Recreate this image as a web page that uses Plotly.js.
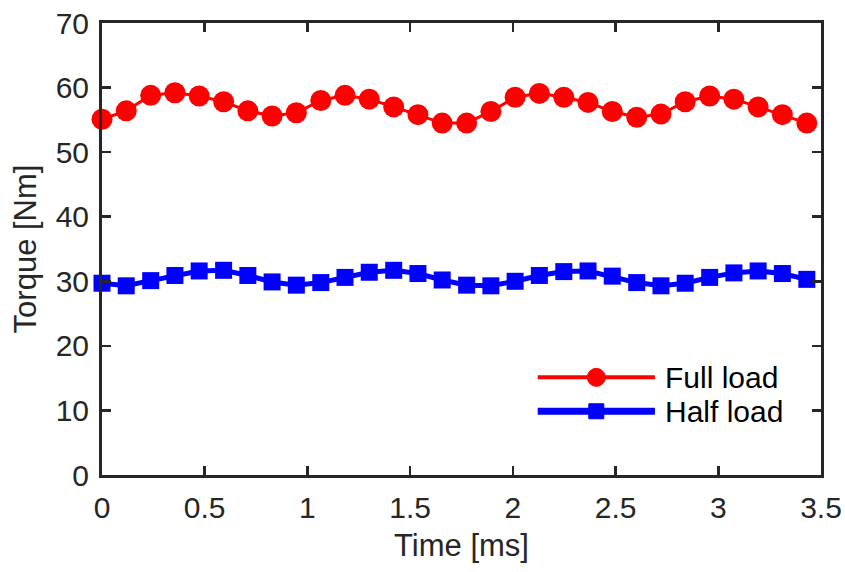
<!DOCTYPE html>
<html>
<head>
<meta charset="utf-8">
<script src="https://cdn.plot.ly/plotly-3.0.1.min.js"></script>
<style>html,body{margin:0;padding:0;background:#fff;}#chart{width:845px;height:572px;}</style>
</head>
<body>
<div id="chart"></div>
<script>
const timeMs = [0, 0.118, 0.237, 0.355, 0.473, 0.592, 0.710, 0.828, 0.946, 1.065,
  1.183, 1.301, 1.420, 1.538, 1.656, 1.775, 1.893, 2.011, 2.129, 2.248,
  2.366, 2.484, 2.603, 2.721, 2.839, 2.958, 3.076, 3.194, 3.312, 3.431];
const fullLoad = [55.1, 56.4, 58.8, 59.2, 58.7, 57.8, 56.4, 55.6, 56.1, 58.0,
  58.8, 58.2, 57.0, 55.8, 54.5, 54.5, 56.3, 58.5, 59.1, 58.5,
  57.7, 56.3, 55.4, 55.9, 57.8, 58.7, 58.2, 57.0, 55.8, 54.5];
const halfLoad = [29.7, 29.3, 30.1, 30.9, 31.6, 31.7, 30.9, 29.9, 29.4, 29.8,
  30.6, 31.4, 31.7, 31.2, 30.2, 29.4, 29.3, 30.0, 30.9, 31.5,
  31.6, 30.8, 29.8, 29.3, 29.7, 30.6, 31.3, 31.6, 31.2, 30.3];
const seriesNames = ['Full load', 'Half load'];
const xTicks = [0, 0.5, 1, 1.5, 2, 2.5, 3, 3.5];
const xTickText = ['0', '0.5', '1', '1.5', '2', '2.5', '3', '3.5'];
const yTicks = [0, 10, 20, 30, 40, 50, 60, 70];

const axisColor = '#262626';
const fontFam = '"Liberation Sans", Arial, Helvetica, sans-serif';
const fs = 30;
const fsTitle = 31;

const traces = [
  {x: timeMs, y: fullLoad, name: seriesNames[0], mode: 'lines+markers', type: 'scatter',
   line: {color: '#ff0000', width: 3}, marker: {color: '#ff0000', size: 21, symbol: 'circle'}, showlegend: false, cliponaxis: false},
  {x: timeMs, y: halfLoad, name: seriesNames[1], mode: 'lines+markers', type: 'scatter',
   line: {color: '#0000ff', width: 5}, marker: {color: '#0000ff', size: 17, symbol: 'square'}, showlegend: false, cliponaxis: false}
];

const legendRows = [
  {y: 0.216, color: '#ff0000', w: 4, label: seriesNames[0], shape: 'circle', sz: 18},
  {y: 0.141, color: '#0000ff', w: 7, label: seriesNames[1], shape: 'rect', sz: 15}
];
const shapes = [];
const annotations = [];
legendRows.forEach(r => {
  shapes.push({type: 'line', xref: 'paper', yref: 'paper', x0: 0.606, x1: 0.769, y0: r.y, y1: r.y,
    line: {color: r.color, width: r.w}});
  shapes.push({type: r.shape, xref: 'paper', yref: 'paper', xsizemode: 'pixel', ysizemode: 'pixel',
    xanchor: 0.6875, yanchor: r.y, x0: -r.sz/2, x1: r.sz/2, y0: -r.sz/2, y1: r.sz/2,
    fillcolor: r.color, line: {color: r.color, width: 1}});
  annotations.push({xref: 'paper', yref: 'paper', x: 0.78, y: r.y, xanchor: 'left', yanchor: 'middle',
    text: r.label, showarrow: false, font: {family: fontFam, size: fs, color: '#000'}});
});

const layout = {
  width: 845, height: 572,
  margin: {l: 102, r: 24, t: 23, b: 97},
  paper_bgcolor: '#fff', plot_bgcolor: '#fff',
  font: {family: fontFam, size: fs, color: axisColor},
  xaxis: {range: [0, 3.5], tickvals: xTicks, ticktext: xTickText, ticks: 'inside', ticklen: 9, tickwidth: 2.5,
    tickcolor: axisColor, showline: true, linecolor: axisColor, linewidth: 3, mirror: 'ticks',
    showgrid: false, zeroline: false, title: {text: 'Time [ms]', font: {size: fsTitle, color: axisColor}, standoff: 12},
    tickfont: {size: fs, color: axisColor}, ticklabelstandoff: 4},
  yaxis: {range: [0, 70], tickvals: yTicks, ticks: 'inside', ticklen: 9, tickwidth: 2.5,
    tickcolor: axisColor, showline: true, linecolor: axisColor, linewidth: 3, mirror: 'ticks',
    showgrid: false, zeroline: false, title: {text: 'Torque [Nm]', font: {size: fsTitle, color: axisColor}, standoff: 10},
    tickfont: {size: fs, color: axisColor}, ticklabelstandoff: 4},
  shapes: shapes,
  annotations: annotations,
  showlegend: false
};
Plotly.newPlot('chart', traces, layout, {displayModeBar: false, staticPlot: true});
</script>
</body>
</html>
